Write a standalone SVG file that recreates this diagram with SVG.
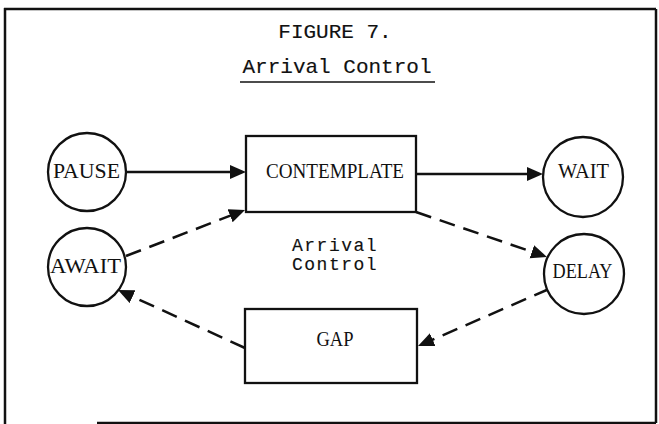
<svg xmlns="http://www.w3.org/2000/svg" width="659" height="424" viewBox="0 0 659 424">
  <style>
    .frame { fill: none; stroke: #111; stroke-width: 2.5; }
    .node { fill: #fff; stroke: #111; stroke-width: 2.3; }
    .label { font-family: "Liberation Serif", "Times New Roman", serif; font-size: 20.5px; fill: #111; text-anchor: middle; }
    .type { font-family: "Liberation Mono", "Courier New", monospace; fill: #111; stroke: #111; stroke-width: 0.15; }
    .solid { fill: none; stroke: #111; stroke-width: 2.3; marker-end: url(#head); }
    .dashed { fill: none; stroke: #111; stroke-width: 2.5; stroke-dasharray: 16 9; marker-end: url(#head); }
  </style>
  <defs>
    <marker id="head" markerUnits="userSpaceOnUse" markerWidth="18" markerHeight="16" refX="6" refY="7" orient="auto">
      <path d="M0,0 L16,7 L0,14 z" fill="#111"/>
    </marker>
  </defs>

  <rect width="659" height="424" fill="#fff"/>

  <!-- page frame -->
  <g id="frame">
    <line class="frame" x1="5" y1="8" x2="5" y2="424" stroke-width="3"/>
    <line class="frame" x1="4" y1="9" x2="656" y2="9"/>
    <line class="frame" x1="656" y1="9" x2="656" y2="423" stroke="#999" stroke-width="1.5"/>
    <line class="frame" x1="97" y1="423" x2="227" y2="423" stroke="#888"/>
    <line class="frame" x1="227" y1="423" x2="656" y2="423"/>
  </g>

  <!-- headings -->
  <g id="title">
    <text class="type" x="335" y="38" font-size="21" text-anchor="middle">FIGURE 7.</text>
    <text class="type" x="337" y="73" font-size="21" text-anchor="middle">Arrival Control</text>
    <line x1="240" y1="82" x2="435" y2="82" stroke="#111" stroke-width="1.6"/>
  </g>

  <!-- connectors -->
  <g id="connectors">
    <path class="solid" d="M126,172 L236,172"/>
    <path class="solid" d="M416,174 L533,174"/>
    <path class="dashed" d="M126,256 L235.7,213.6"/>
    <path class="dashed" d="M416,212 L537.5,253.7"/>
    <path class="dashed" d="M549,289 L427.2,342"/>
    <path class="dashed" d="M245,348 L127.1,294.2"/>
  </g>

  <!-- nodes -->
  <g id="pause">
    <circle class="node" cx="87" cy="172" r="39"/>
    <text class="label" x="86.5" y="178" textLength="67" lengthAdjust="spacingAndGlyphs">PAUSE</text>
  </g>
  <g id="await">
    <circle class="node" cx="87" cy="267" r="39"/>
    <text class="label" x="85.5" y="273" textLength="71" lengthAdjust="spacingAndGlyphs">AWAIT</text>
  </g>
  <g id="contemplate">
    <rect class="node" x="246" y="136" width="170" height="76"/>
    <text class="label" x="335" y="178" textLength="138" lengthAdjust="spacingAndGlyphs">CONTEMPLATE</text>
  </g>
  <g id="wait">
    <circle class="node" cx="583" cy="177" r="40"/>
    <text class="label" x="583.5" y="178" textLength="51" lengthAdjust="spacingAndGlyphs">WAIT</text>
  </g>
  <g id="delay">
    <circle class="node" cx="584" cy="274" r="40"/>
    <text class="label" x="582.5" y="278" textLength="60" lengthAdjust="spacingAndGlyphs">DELAY</text>
  </g>
  <g id="gap">
    <rect class="node" x="245" y="309" width="172" height="74"/>
    <text class="label" x="335" y="346" textLength="37" lengthAdjust="spacingAndGlyphs">GAP</text>
  </g>

  <!-- centre caption -->
  <g id="caption">
    <text class="type" x="292" y="251" font-size="18" letter-spacing="1.5">Arrival</text>
    <text class="type" x="292" y="270" font-size="18" letter-spacing="1.5">Control</text>
  </g>
</svg>
